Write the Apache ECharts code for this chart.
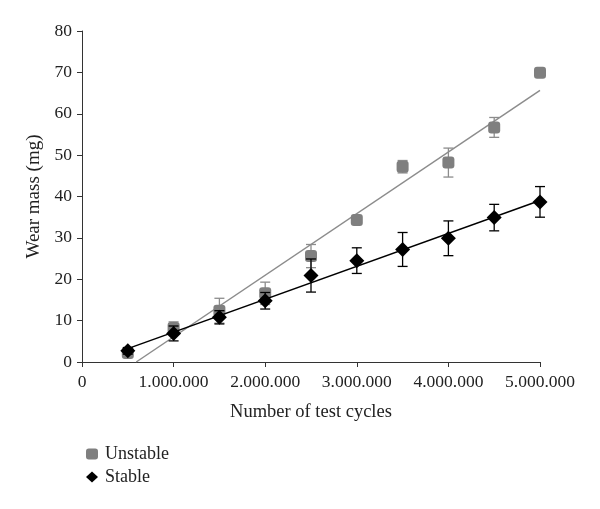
<!DOCTYPE html>
<html>
<head>
<meta charset="utf-8">
<script src="https://cdn.jsdelivr.net/npm/echarts@6/dist/echarts.min.js"></script>
<style>
  html, body { margin: 0; padding: 0; background: #fff; }
  #chart { width: 600px; height: 509px; }
</style>
</head>
<body>
<div id="chart"></div>
<script>
// test cycles
var cycles = [500000, 1000000, 1500000, 2000000, 2500000, 3000000, 3500000, 4000000, 4500000, 5000000];
// wear mass (mg)
var unstableMean = [2.2, 8.2, 12.4, 16.6, 25.6, 34.3, 47.2, 48.2, 56.7, 69.9];
var unstableErr = [0.8, 1.5, 3.0, 2.7, 2.8, 1.0, 1.5, 3.5, 2.4, 1.0];
var stableMean = [2.7, 6.9, 10.8, 14.8, 20.9, 24.5, 27.2, 29.9, 34.9, 38.7];
var stableErr = [0.8, 1.8, 1.6, 2.0, 4.0, 3.1, 4.1, 4.2, 3.2, 3.7];

var FONT = "Liberation Serif";

// least squares trend, like the spreadsheet trendline
function trend(xs, ys) {
  var n = xs.length, mx = 0, my = 0;
  for (var i = 0; i < n; i++) { mx += xs[i]; my += ys[i]; }
  mx /= n; my /= n;
  var sxx = 0, sxy = 0;
  for (var j = 0; j < n; j++) {
    sxx += (xs[j] - mx) * (xs[j] - mx);
    sxy += (xs[j] - mx) * (ys[j] - my);
  }
  var m = sxy / sxx, b = my - m * mx;
  var x0 = xs[0], x1 = xs[n - 1];
  // clip at y = 0
  if (m * x0 + b < 0) x0 = -b / m;
  return [[x0, m * x0 + b], [x1, m * x1 + b]];
}

function pairs(ys) {
  return cycles.map(function (c, i) { return [c, ys[i]]; });
}

function errData(ys, es) {
  return cycles.map(function (c, i) { return [c, ys[i] - es[i], ys[i] + es[i]]; });
}

function errorBars(color) {
  return function (params, api) {
    var lo = api.coord([api.value(0), api.value(1)]);
    var hi = api.coord([api.value(0), api.value(2)]);
    var w = 5;
    var style = { stroke: color, lineWidth: 1.3 };
    return {
      type: "group",
      children: [
        { type: "line", shape: { x1: lo[0], y1: lo[1], x2: hi[0], y2: hi[1] }, style: style },
        { type: "line", shape: { x1: lo[0] - w, y1: lo[1], x2: lo[0] + w, y2: lo[1] }, style: style },
        { type: "line", shape: { x1: hi[0] - w, y1: hi[1], x2: hi[0] + w, y2: hi[1] }, style: style }
      ]
    };
  };
}

var chart = echarts.init(document.getElementById("chart"));

chart.setOption({
  animation: false,
  textStyle: { fontFamily: FONT },
  grid: { left: 82, right: 60, top: 31, bottom: 147 },
  legend: {
    orient: "vertical",
    left: 81,
    top: 440,
    itemGap: 5,
    itemWidth: 12,
    itemHeight: 11,
    data: ["Unstable", "Stable"],
    textStyle: { fontFamily: FONT, fontSize: 18, color: "#222", padding: [0, 0, 0, 2] }
  },
  xAxis: {
    type: "value",
    min: 0,
    max: 5000000,
    interval: 1000000,
    name: "Number of test cycles",
    nameLocation: "middle",
    nameGap: 41,
    nameTextStyle: { fontFamily: FONT, fontSize: 18.5, color: "#222" },
    axisLine: { lineStyle: { color: "#333", width: 1 } },
    axisTick: { length: 5, lineStyle: { color: "#333" } },
    splitLine: { show: false },
    axisLabel: {
      fontFamily: FONT,
      fontSize: 17.5,
      color: "#222",
      margin: 11,
      formatter: function (v) {
        return String(v).replace(/\B(?=(\d{3})+(?!\d))/g, ".");
      }
    }
  },
  yAxis: {
    type: "value",
    min: 0,
    max: 80,
    interval: 10,
    name: "Wear mass (mg)",
    nameLocation: "middle",
    nameGap: 38,
    nameTextStyle: { fontFamily: FONT, fontSize: 19, color: "#222" },
    axisLine: { show: true, lineStyle: { color: "#333", width: 1 } },
    axisTick: { show: true, length: 5, lineStyle: { color: "#333" } },
    splitLine: { show: false },
    axisLabel: { fontFamily: FONT, fontSize: 17.5, color: "#222", margin: 10 }
  },
  series: [
    {
      name: "Unstable trend",
      type: "line",
      data: trend(cycles, unstableMean),
      symbol: "none",
      lineStyle: { color: "#8c8c8c", width: 1.5 },
      z: 1,
      silent: true
    },
    {
      name: "Unstable err",
      type: "custom",
      data: errData(unstableMean, unstableErr),
      renderItem: errorBars("#8c8c8c"),
      encode: { x: 0, y: [1, 2] },
      z: 2,
      silent: true
    },
    {
      name: "Unstable",
      type: "scatter",
      data: pairs(unstableMean),
      symbol: "roundRect",
      symbolSize: 12,
      itemStyle: { color: "#7f7f7f", opacity: 1 },
      z: 3
    },
    {
      name: "Stable trend",
      type: "line",
      data: trend(cycles, stableMean),
      symbol: "none",
      lineStyle: { color: "#000", width: 1.5 },
      z: 4,
      silent: true
    },
    {
      name: "Stable err",
      type: "custom",
      data: errData(stableMean, stableErr),
      renderItem: errorBars("#000"),
      encode: { x: 0, y: [1, 2] },
      z: 5,
      silent: true
    },
    {
      name: "Stable",
      type: "scatter",
      data: pairs(stableMean),
      symbol: "diamond",
      symbolSize: 15,
      itemStyle: { color: "#000", opacity: 1 },
      z: 6
    }
  ]
});
</script>
</body>
</html>
